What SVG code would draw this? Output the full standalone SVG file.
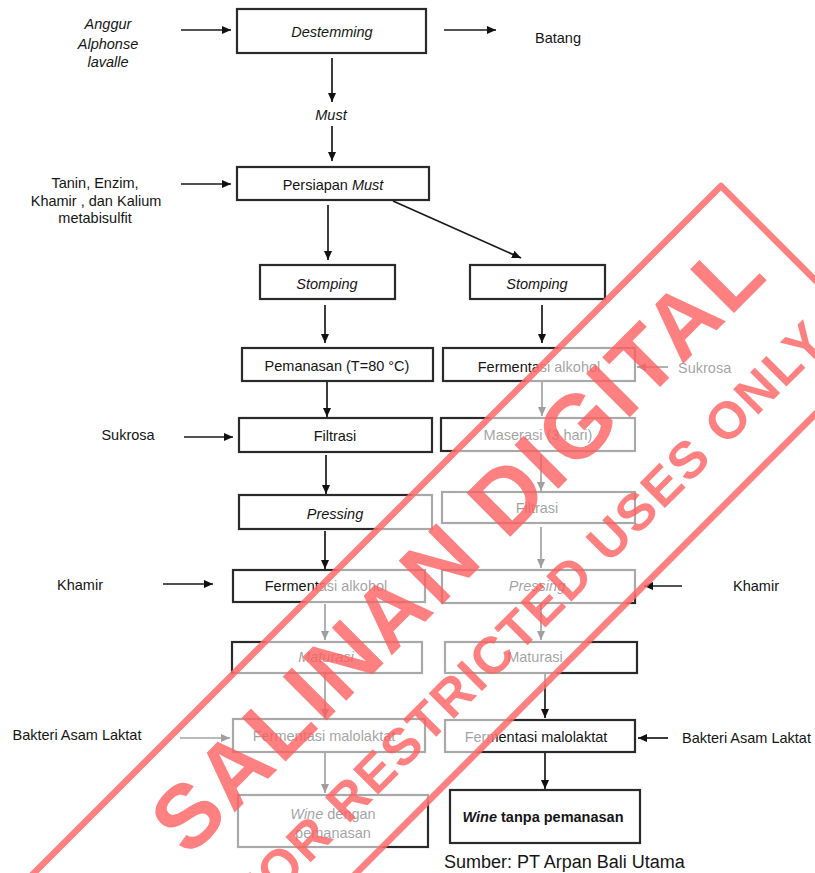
<svg xmlns="http://www.w3.org/2000/svg" width="815" height="873" viewBox="0 0 815 873">
<defs>
<marker id="ah" markerWidth="9" markerHeight="8" refX="9" refY="4" orient="auto" markerUnits="userSpaceOnUse">
<path d="M0,0 L9,4 L0,8 z" fill="#111"/>
</marker>
<style>
.box{fill:#fff;stroke:#2a2a2a;stroke-width:2.2}
.t{font-family:"Liberation Sans",Arial,sans-serif;font-size:14.5px;fill:#151515;text-anchor:middle}
.s{text-anchor:start}
.i{font-style:italic}
.b{font-weight:bold}
.c line{stroke:#1a1a1a;stroke-width:1.7;marker-end:url(#ah)}
.wm{font-family:"Liberation Sans",Arial,sans-serif;font-weight:bold;fill:#ff5c5c;fill-opacity:0.78}
</style>
</defs>
<rect width="815" height="873" fill="#fff"/>

<g id="inputs">
<text class="t i" x="108" y="29">Anggur</text>
<text class="t i" x="108" y="49">Alphonse</text>
<text class="t i" x="108" y="67">lavalle</text>
<text class="t" x="558" y="43">Batang</text>
<text class="t i" x="331" y="120">Must</text>
<text class="t" x="95" y="188">Tanin, Enzim,</text>
<text class="t" x="96" y="206">Khamir , dan Kalium</text>
<text class="t" x="95" y="223">metabisulfit</text>
<text class="t s" x="678" y="373">Sukrosa</text>
<text class="t" x="128" y="440">Sukrosa</text>
<text class="t" x="80" y="590">Khamir</text>
<text class="t" x="756" y="591">Khamir</text>
<text class="t" x="77" y="740">Bakteri  Asam Laktat</text>
<text class="t s" x="682" y="743">Bakteri Asam Laktat</text>
</g>

<g id="destemming"><rect class="box" x="237" y="9" width="189" height="44"/><text class="t i" x="332" y="37">Destemming</text></g>
<g id="persiapan"><rect class="box" x="237" y="167" width="192" height="33"/><text class="t" x="333" y="190">Persiapan <tspan font-style="italic">Must</tspan></text></g>
<g id="stomping-l"><rect class="box" x="260" y="265" width="135" height="34"/><text class="t i" x="327" y="289">Stomping</text></g>
<g id="stomping-r"><rect class="box" x="470" y="265" width="135" height="34"/><text class="t i" x="537" y="289">Stomping</text></g>
<g id="pemanasan"><rect class="box" x="242" y="348" width="191" height="33"/><text class="t" x="337" y="371">Pemanasan (T=80 °C)</text></g>
<g id="fermalk-r"><rect class="box" x="443" y="348" width="192" height="33"/><text class="t" x="539" y="372">Fermentasi alkohol</text></g>
<g id="filtrasi-l"><rect class="box" x="239" y="418" width="193" height="34"/><text class="t" x="335" y="441">Filtrasi</text></g>
<g id="maserasi"><rect class="box" x="441" y="418" width="194" height="33"/><text class="t" x="538" y="440">Maserasi (3 hari)</text></g>
<g id="pressing-l"><rect class="box" x="239" y="495" width="193" height="34"/><text class="t i" x="335" y="519">Pressing</text></g>
<g id="filtrasi-r"><rect class="box" x="442" y="492" width="193" height="31"/><text class="t" x="537" y="513">Filtrasi</text></g>
<g id="fermalk-l"><rect class="box" x="233" y="570" width="192" height="32"/><text class="t" x="326" y="591">Fermentasi alkohol</text></g>
<g id="pressing-r"><rect class="box" x="442" y="570" width="193" height="33"/><text class="t i" x="537" y="591">Pressing</text></g>
<g id="maturasi-l"><rect class="box" x="232" y="642" width="190" height="31"/><text class="t i" x="326" y="662">Maturasi</text></g>
<g id="maturasi-r"><rect class="box" x="445" y="642" width="192" height="31"/><text class="t" x="535" y="662">Maturasi</text></g>
<g id="fermmalo-l"><rect class="box" x="233" y="719" width="192" height="33"/><text class="t" x="324" y="741">Fermentasi malolaktat</text></g>
<g id="fermmalo-r"><rect class="box" x="445" y="720" width="190" height="32"/><text class="t" x="536" y="742">Fermentasi malolaktat</text></g>
<g id="wine-dengan"><rect class="box" x="238" y="795" width="190" height="52"/><text class="t" x="333" y="819"><tspan font-style="italic">Wine</tspan> dengan</text><text class="t" x="333" y="838">pemanasan</text></g>
<g id="wine-tanpa"><rect class="box" x="450" y="790" width="190" height="53"/><text class="t b" x="543" y="822"><tspan font-style="italic">Wine</tspan>  tanpa  pemanasan</text></g>

<g id="connectors" class="c">
<line x1="181" y1="30" x2="231" y2="30"/>
<line x1="444" y1="30" x2="496" y2="30"/>
<line x1="332" y1="58" x2="332" y2="102"/>
<line x1="332" y1="126" x2="332" y2="161"/>
<line x1="181" y1="184" x2="231" y2="184"/>
<line x1="328" y1="205" x2="328" y2="260"/>
<line x1="393" y1="201" x2="521" y2="258"/>
<line x1="325" y1="305" x2="325" y2="343"/>
<line x1="542" y1="305" x2="542" y2="343"/>
<line x1="327" y1="382" x2="327" y2="417"/>
<line x1="542" y1="382" x2="542" y2="416"/>
<line x1="668" y1="367" x2="637" y2="367"/>
<line x1="184" y1="437" x2="233" y2="437"/>
<line x1="326" y1="455" x2="326" y2="494"/>
<line x1="541" y1="455" x2="541" y2="491"/>
<line x1="325" y1="531" x2="325" y2="569"/>
<line x1="541" y1="527" x2="541" y2="568"/>
<line x1="163" y1="584" x2="213" y2="584"/>
<line x1="682" y1="586" x2="644" y2="586"/>
<line x1="325" y1="604" x2="325" y2="640"/>
<line x1="541" y1="604" x2="541" y2="640"/>
<line x1="325" y1="674" x2="325" y2="718"/>
<line x1="545" y1="674" x2="545" y2="718"/>
<line x1="180" y1="738" x2="230" y2="738"/>
<line x1="668" y1="738" x2="638" y2="738"/>
<line x1="325" y1="753" x2="325" y2="793"/>
<line x1="545" y1="753" x2="545" y2="789"/>
</g>

<text class="t s" x="444" y="868" style="font-size:18px">Sumber: PT Arpan Bali Utama</text>

<g id="watermark" transform="translate(721,186) rotate(-45)">
<rect x="-1600" y="0" width="1600" height="228" fill="#fff" fill-opacity="0.6"/>
<rect x="-1600" y="0" width="1600" height="228" fill="none" stroke="#ff6a6a" stroke-opacity="0.85" stroke-width="6.5" stroke-linejoin="round"/>
<text class="wm" x="-852" y="99" font-size="90" letter-spacing="3">SALINAN DIGITAL</text>
<text class="wm" x="-848" y="188" font-size="52" letter-spacing="2">FOR RESTRICTED USES ONLY</text>
</g>
</svg>
